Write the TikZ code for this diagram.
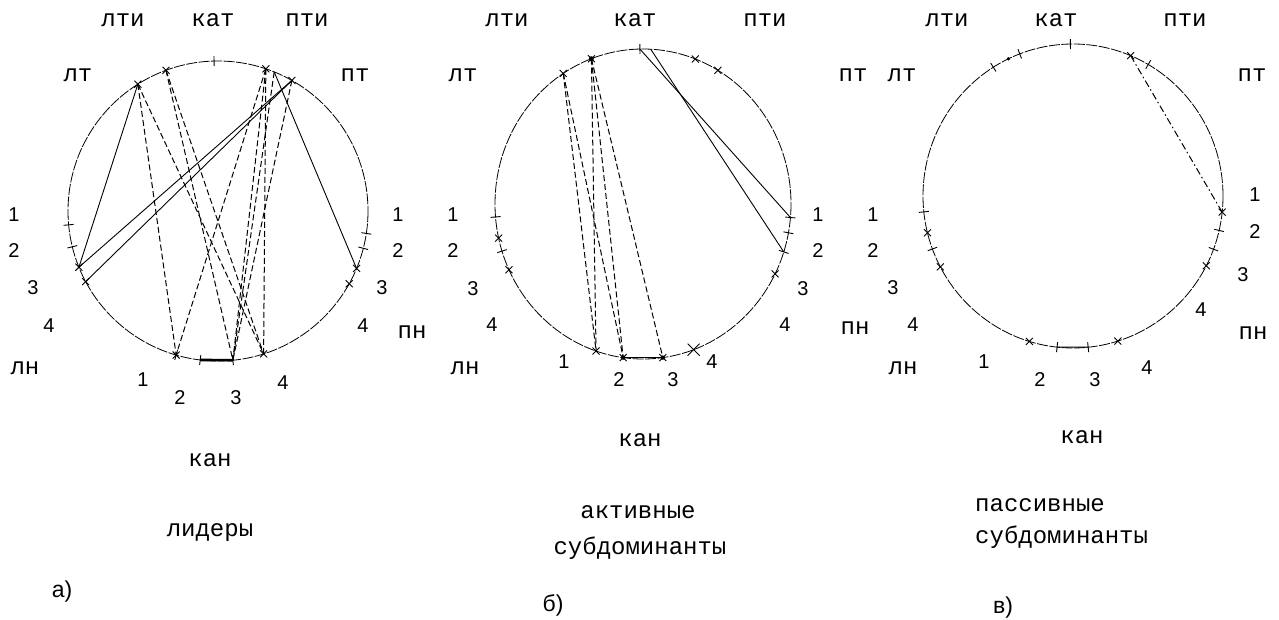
\documentclass[tikz,border=0pt]{standalone}
\usepackage{fontspec}
\setmainfont{Liberation Sans}
\setmonofont{Liberation Mono}
\newcommand\xmk[1]{\draw[tk] #1 +(-3.5,-3.5) -- +(3.5,3.5) +(-3.5,3.5) -- +(3.5,-3.5);}
\newcommand\radtick[3]{\draw[tk] (#1) ++(#2:#3) -- ++(#2:10);}
\begin{document}
\begin{tikzpicture}[x=1pt,y=-1pt,
  lbl/.style={font=\ttfamily\fontsize{24}{28}\selectfont, inner sep=0pt},
  num/.style={font=\rmfamily\fontsize{20}{24}\selectfont, inner sep=0pt},
  capt/.style={font=\rmfamily\fontsize{23}{26}\selectfont, inner sep=0pt},
  rim/.style={line width=0.8pt, dash pattern=on 11pt off 1.5pt},
  chord/.style={line width=0.9pt},
  dchord/.style={line width=1pt, dash pattern=on 6pt off 3pt},
  ddchord/.style={line width=1pt, dash pattern=on 7pt off 3pt on 1.5pt off 3pt},
  tk/.style={line width=0.9pt}]
\useasboundingbox (0,0) rectangle (1279,620);
\fill[white] (0,0) rectangle (1279,620);

% ================= circle a =================
\coordinate (c1) at (218,211);
\draw[rim] (c1) circle (150);
\path (c1) ++(237.7:150) coordinate (aP1);
\path (c1) ++(249.7:150) coordinate (aP2);
\path (c1) ++(288.6:150) coordinate (aP3);
\path (c1) ++(292:150) coordinate (aP3b);
\path (c1) ++(299.5:150) coordinate (aP4);
\path (c1) ++(158:150) coordinate (aL3a);
\path (c1) ++(151.9:150) coordinate (aL3b);
\path (c1) ++(22.5:150) coordinate (aR2);
\path (c1) ++(29:150) coordinate (aR3);
\path (c1) ++(106.2:150) coordinate (aB1);
\path (c1) ++(96.8:150) coordinate (aB2);
\path (c1) ++(84.3:150) coordinate (aB3);
\path (c1) ++(72.3:150) coordinate (aB4);
\draw[chord] (aP1) -- (aL3a);
\draw[chord] (aP4) -- (aL3a);
\draw[chord] (aP4) -- (aL3b);
\draw[chord] (aP3b) -- (aR2);
\draw[line width=2.6pt] (aB2) -- (aB3);
\foreach \u/\v in {aP1/aB1, aP1/aB4, aP2/aB3, aP2/aB4, aP3/aB1, aP3/aB3, aP3b/aB3, aP4/aB3, aP3/aB4}
  {\draw[dchord] (\u) -- (\v);}
\foreach \p in {aP1,aP2,aP3,aP4,aL3a,aL3b,aR2,aR3,aB1,aB4}
  {\xmk{(\p)}}
\foreach \t in {268.5,174.7,166.2,8.6,14.4,96.8,84.3,106.2}
  {\radtick{c1}{\t}{145}}

\node[lbl] (a-lti) at (123,20) {лти};
\node[lbl] (a-kat) at (213,20) {кат};
\node[lbl] (a-pti) at (307,20) {пти};
\node[lbl] (a-lt) at (78,75) {лт};
\node[lbl] (a-pt) at (355,75) {пт};
\node[lbl] (a-ln) at (25,368) {лн};
\node[lbl] (a-pn) at (412,332) {пн};
\node[lbl] (a-kan) at (210,460) {кан};
\node[lbl] (a-lid) at (210,533) {лидеры};
\node[num] (a-l1) at (14,215) {1};
\node[num] (a-l2) at (14,251) {2};
\node[num] (a-l3) at (33,288) {3};
\node[num] (a-l4) at (49,326) {4};
\node[num] (a-r1) at (398,215) {1};
\node[num] (a-r2) at (398,251) {2};
\node[num] (a-r3) at (382,288) {3};
\node[num] (a-r4) at (363,326) {4};
\node[num] (a-b1) at (143,380) {1};
\node[num] (a-b2) at (180,398) {2};
\node[num] (a-b3) at (236,398) {3};
\node[num] (a-b4) at (283,383) {4};
\node[capt] (a-cap) at (62,592) {а)};

% ================= circle b =================
\coordinate (c2) at (643,204);
\draw[rim] (c2) ellipse [x radius=148, y radius=155];
\path (c2) ++(268.8:148 and 155) coordinate (bK);
\path (c2) ++(273:148 and 155) coordinate (bK2);
\path (c2) ++(237.4:148 and 155) coordinate (bQ1);
\path (c2) ++(249.6:148 and 155) coordinate (bQ2);
\path (c2) ++(290.7:148 and 155) coordinate (bQ3);
\path (c2) ++(300.4:148 and 155) coordinate (bQ4);
\path (c2) ++(5:148 and 155) coordinate (bR1);
\path (c2) ++(18:148 and 155) coordinate (bR2);
\path (c2) ++(26.8:148 and 155) coordinate (bR3);
\path (c2) ++(108.5:148 and 155) coordinate (bB1);
\path (c2) ++(97.7:148 and 155) coordinate (bB2);
\path (c2) ++(82.3:148 and 155) coordinate (bB3);
\path (c2) ++(70:148 and 155) coordinate (bB4);
\path (c2) ++(167.3:148 and 155) coordinate (bL2);
\path (c2) ++(154.9:148 and 155) coordinate (bL3);
\draw[chord] (bK) -- (bR1);
\draw[chord] (bK2) -- (bR2);
\draw[line width=1.2pt] (bB2) -- (bB3);
\foreach \u/\v in {bQ1/bB1, bQ1/bB2, bQ2/bB1, bQ2/bB2, bQ2/bB3}
  {\draw[dchord] (\u) -- (\v);}
\foreach \p in {bQ1,bQ2,bQ3,bQ4,bB1,bB2,bB3,bR3,bL2,bL3}
  {\xmk{(\p)}}
\draw[tk] (bB4) +(-6,-6) -- +(6,6) +(-6,6) -- +(6,-6);
\fill (bQ2) circle (2.5);
\fill (bB2) circle (2.2);
\fill (bB3) circle (2.2);
\foreach \t in {268.8,5,10.7,18,175.2,162.3}
  {\radtick{c2}{\t}{143 and 150}}

\node[lbl] (b-lti) at (507,20) {лти};
\node[lbl] (b-kat) at (635,20) {кат};
\node[lbl] (b-pti) at (765,20) {пти};
\node[lbl] (b-lt) at (463,75) {лт};
\node[lbl] (b-pt) at (853,75) {пт};
\node[lbl] (b-ln) at (465,368) {лн};
\node[lbl] (b-pn) at (855,328) {пн};
\node[lbl] (b-kan) at (640,440) {кан};
\node[lbl] (b-akt) at (638,512) {активные};
\node[lbl] (b-sub) at (640,548) {субдоминанты};
\node[num] (b-l1) at (453,215) {1};
\node[num] (b-l2) at (453,251) {2};
\node[num] (b-l3) at (473,289) {3};
\node[num] (b-l4) at (492,325) {4};
\node[num] (b-r1) at (818,215) {1};
\node[num] (b-r2) at (818,251) {2};
\node[num] (b-r3) at (803,289) {3};
\node[num] (b-r4) at (785,325) {4};
\node[num] (b-b1) at (564,362) {1};
\node[num] (b-b2) at (619,380) {2};
\node[num] (b-b3) at (673,380) {3};
\node[num] (b-b4) at (712,362) {4};
\node[capt] (b-cap) at (553,605) {б)};

% ================= circle c =================
\coordinate (c3) at (1073,196);
\draw[rim] (c3) ellipse [x radius=150, y radius=152];
\path (c3) ++(292.6:150 and 152) coordinate (cX);
\path (c3) ++(6.1:150 and 152) coordinate (cR1);
\path (c3) ++(96.1:150 and 152) coordinate (cB2);
\path (c3) ++(84.2:150 and 152) coordinate (cB3);
\draw[ddchord] (cX) -- (cR1);
\draw[line width=1pt] (cB2) -- (cB3);
\foreach \t in {292.6,6.1,27.3,166,152.2,106.9,72.6}
  {\xmk{(c3) ++(\t:150 and 152)}}
\foreach \t in {269,249.2,237.9,300.1,174,159.6,13.1,20.5,96.1,84.2}
  {\radtick{c3}{\t}{145 and 147}}
\fill (c3) ++(244.5:150 and 152) circle (1.8);

\node[lbl] (c-lti) at (947,20) {лти};
\node[lbl] (c-kat) at (1056,20) {кат};
\node[lbl] (c-pti) at (1185,20) {пти};
\node[lbl] (c-lt) at (902,75) {лт};
\node[lbl] (c-pt) at (1252,75) {пт};
\node[lbl] (c-ln) at (903,368) {лн};
\node[lbl] (c-pn) at (1253,333) {пн};
\node[lbl] (c-kan) at (1082,437) {кан};
\node[lbl, anchor=west] (c-pas) at (975,505) {пассивные};
\node[lbl, anchor=west] (c-sub) at (975,537) {субдоминанты};
\node[num] (c-l1) at (873,215) {1};
\node[num] (c-l2) at (873,251) {2};
\node[num] (c-l3) at (893,288) {3};
\node[num] (c-l4) at (913,325) {4};
\node[num] (c-r1) at (1255,195) {1};
\node[num] (c-r2) at (1255,232) {2};
\node[num] (c-r3) at (1243,275) {3};
\node[num] (c-r4) at (1201,310) {4};
\node[num] (c-b1) at (984,362) {1};
\node[num] (c-b2) at (1040,380) {2};
\node[num] (c-b3) at (1095,380) {3};
\node[num] (c-b4) at (1147,368) {4};
\node[capt] (c-cap) at (1003,608) {в)};
\end{tikzpicture}
\end{document}
